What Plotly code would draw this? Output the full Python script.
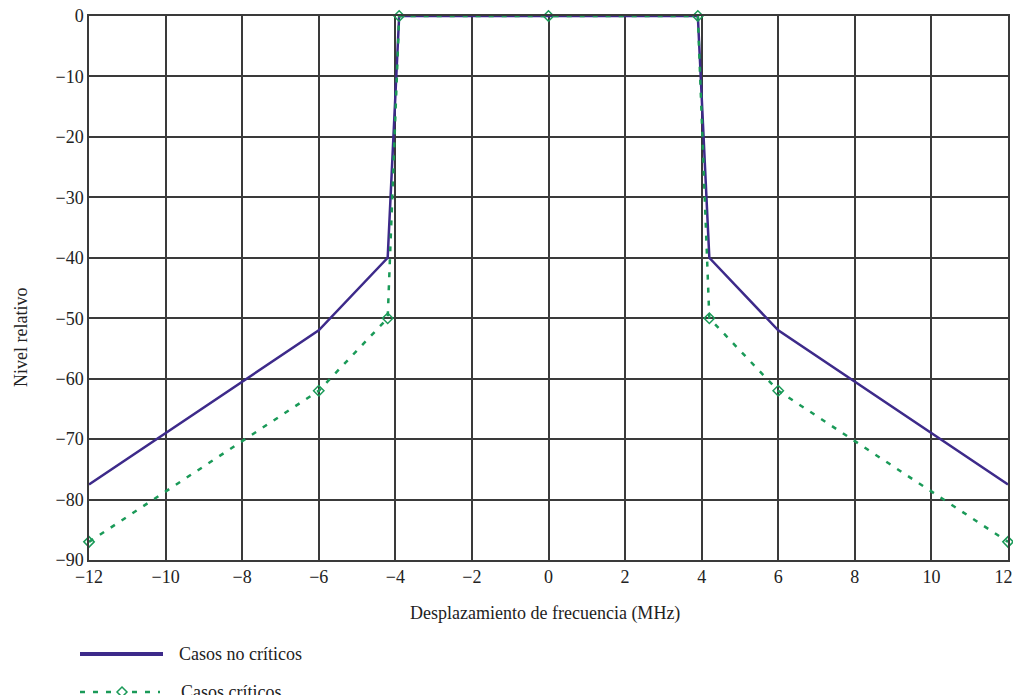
import plotly.graph_objects as go

# Data
freq_no_criticos = [-12, -6, -4.2, -3.9, 3.9, 4.2, 6, 12]
nivel_no_criticos = [-77.5, -52, -40, 0, 0, -40, -52, -77.5]

freq_criticos = [-12, -6, -4.2, -3.9, 0, 3.9, 4.2, 6, 12]
nivel_criticos = [-87, -62, -50, 0, 0, 0, -50, -62, -87]

x_ticks = [-12, -10, -8, -6, -4, -2, 0, 2, 4, 6, 8, 10, 12]
# last label padded so it is not clipped at the page's right edge
x_tick_labels = ["\u221212", "\u221210", "\u22128", "\u22126", "\u22124", "\u22122",
                 "0", "2", "4", "6", "8", "10", "12\u00a0\u00a0"]
y_ticks = [0, -10, -20, -30, -40, -50, -60, -70, -80, -90]

legend_labels = ["Casos no críticos", "Casos críticos"]
x_title = "Desplazamiento de frecuencia (MHz)"
y_title = "Nivel relativo"

PURPLE = "#3D2A8A"
GREEN = "#1A9A58"
GRID = "#3a3a3a"
TEXT = "#222222"
FONT = "Liberation Serif"

# The page body has an 8px margin, so the figure is drawn 8px smaller and shifted.
OFF = 8
W, H = 1021 - OFF, 695 - OFF
ML, MT = 89 - OFF, 16 - OFF
MR = 13
MB = H - (560 - OFF)
PW, PH = W - ML - MR, H - MT - MB


def px_x(px):
    return (px - OFF - ML) / PW


def px_y(py):
    return (H - MB - (py - OFF)) / PH


fig = go.Figure()
fig.add_trace(go.Scatter(
    x=freq_no_criticos, y=nivel_no_criticos, mode="lines",
    name=legend_labels[0], showlegend=False,
    line=dict(color=PURPLE, width=2.5),
))
fig.add_trace(go.Scatter(
    x=freq_criticos, y=nivel_criticos, mode="lines+markers",
    name=legend_labels[1], showlegend=False, cliponaxis=False,
    line=dict(color=GREEN, width=2.5, dash="5px,8px"),
    marker=dict(symbol="diamond-open", size=8, color=GREEN,
                line=dict(width=1.5, color=GREEN)),
))

axis_common = dict(
    showgrid=True, gridcolor=GRID, gridwidth=1.5,
    showline=True, linecolor=GRID, linewidth=1.5, mirror=True,
    zeroline=False, ticks="", ticklabeloverflow="allow",
    tickfont=dict(family=FONT, size=18, color=TEXT),
)

# Manual legend (long sample lines as in the reference)
shapes = [
    dict(type="line", xref="paper", yref="paper",
         x0=px_x(80), x1=px_x(163), y0=px_y(654), y1=px_y(654),
         line=dict(color=PURPLE, width=4)),
    dict(type="line", xref="paper", yref="paper",
         x0=px_x(80), x1=px_x(160), y0=px_y(692), y1=px_y(692),
         line=dict(color=GREEN, width=2.5, dash="5px,8px")),
]
cx, cy, r = 122, 692, 5
shapes.append(dict(
    type="path", xref="paper", yref="paper",
    path=(f"M {px_x(cx)} {px_y(cy - r)} L {px_x(cx + r)} {px_y(cy)} "
          f"L {px_x(cx)} {px_y(cy + r)} L {px_x(cx - r)} {px_y(cy)} Z"),
    fillcolor="white", line=dict(color=GREEN, width=1.5),
))

annotations = [
    dict(text=legend_labels[0], xref="paper", yref="paper",
         x=px_x(177), y=px_y(654), xanchor="left", yanchor="middle",
         showarrow=False, font=dict(family=FONT, size=18, color=TEXT)),
    dict(text=legend_labels[1], xref="paper", yref="paper",
         x=px_x(179), y=px_y(692), xanchor="left", yanchor="middle",
         showarrow=False, font=dict(family=FONT, size=18, color=TEXT)),
    dict(text=x_title, xref="paper", yref="paper",
         x=px_x(545), y=px_y(613), xanchor="center", yanchor="middle",
         showarrow=False, font=dict(family=FONT, size=18, color=TEXT)),
    dict(text=y_title, xref="paper", yref="paper", textangle=-90,
         x=px_x(21), y=px_y(338), xanchor="center", yanchor="middle",
         showarrow=False, font=dict(family=FONT, size=18, color=TEXT)),
]

fig.update_layout(
    width=W, height=H,
    margin=dict(l=ML, r=MR, t=MT, b=MB, autoexpand=False),
    paper_bgcolor="white", plot_bgcolor="white",
    font=dict(family=FONT, size=18, color=TEXT),
    showlegend=False,
    xaxis=dict(range=[-12, 12], tickvals=x_ticks, ticktext=x_tick_labels,
               **axis_common),
    yaxis=dict(range=[-90, 0], tickvals=y_ticks, **axis_common),
    shapes=shapes,
    annotations=annotations,
)

fig.write_html("out.html")
